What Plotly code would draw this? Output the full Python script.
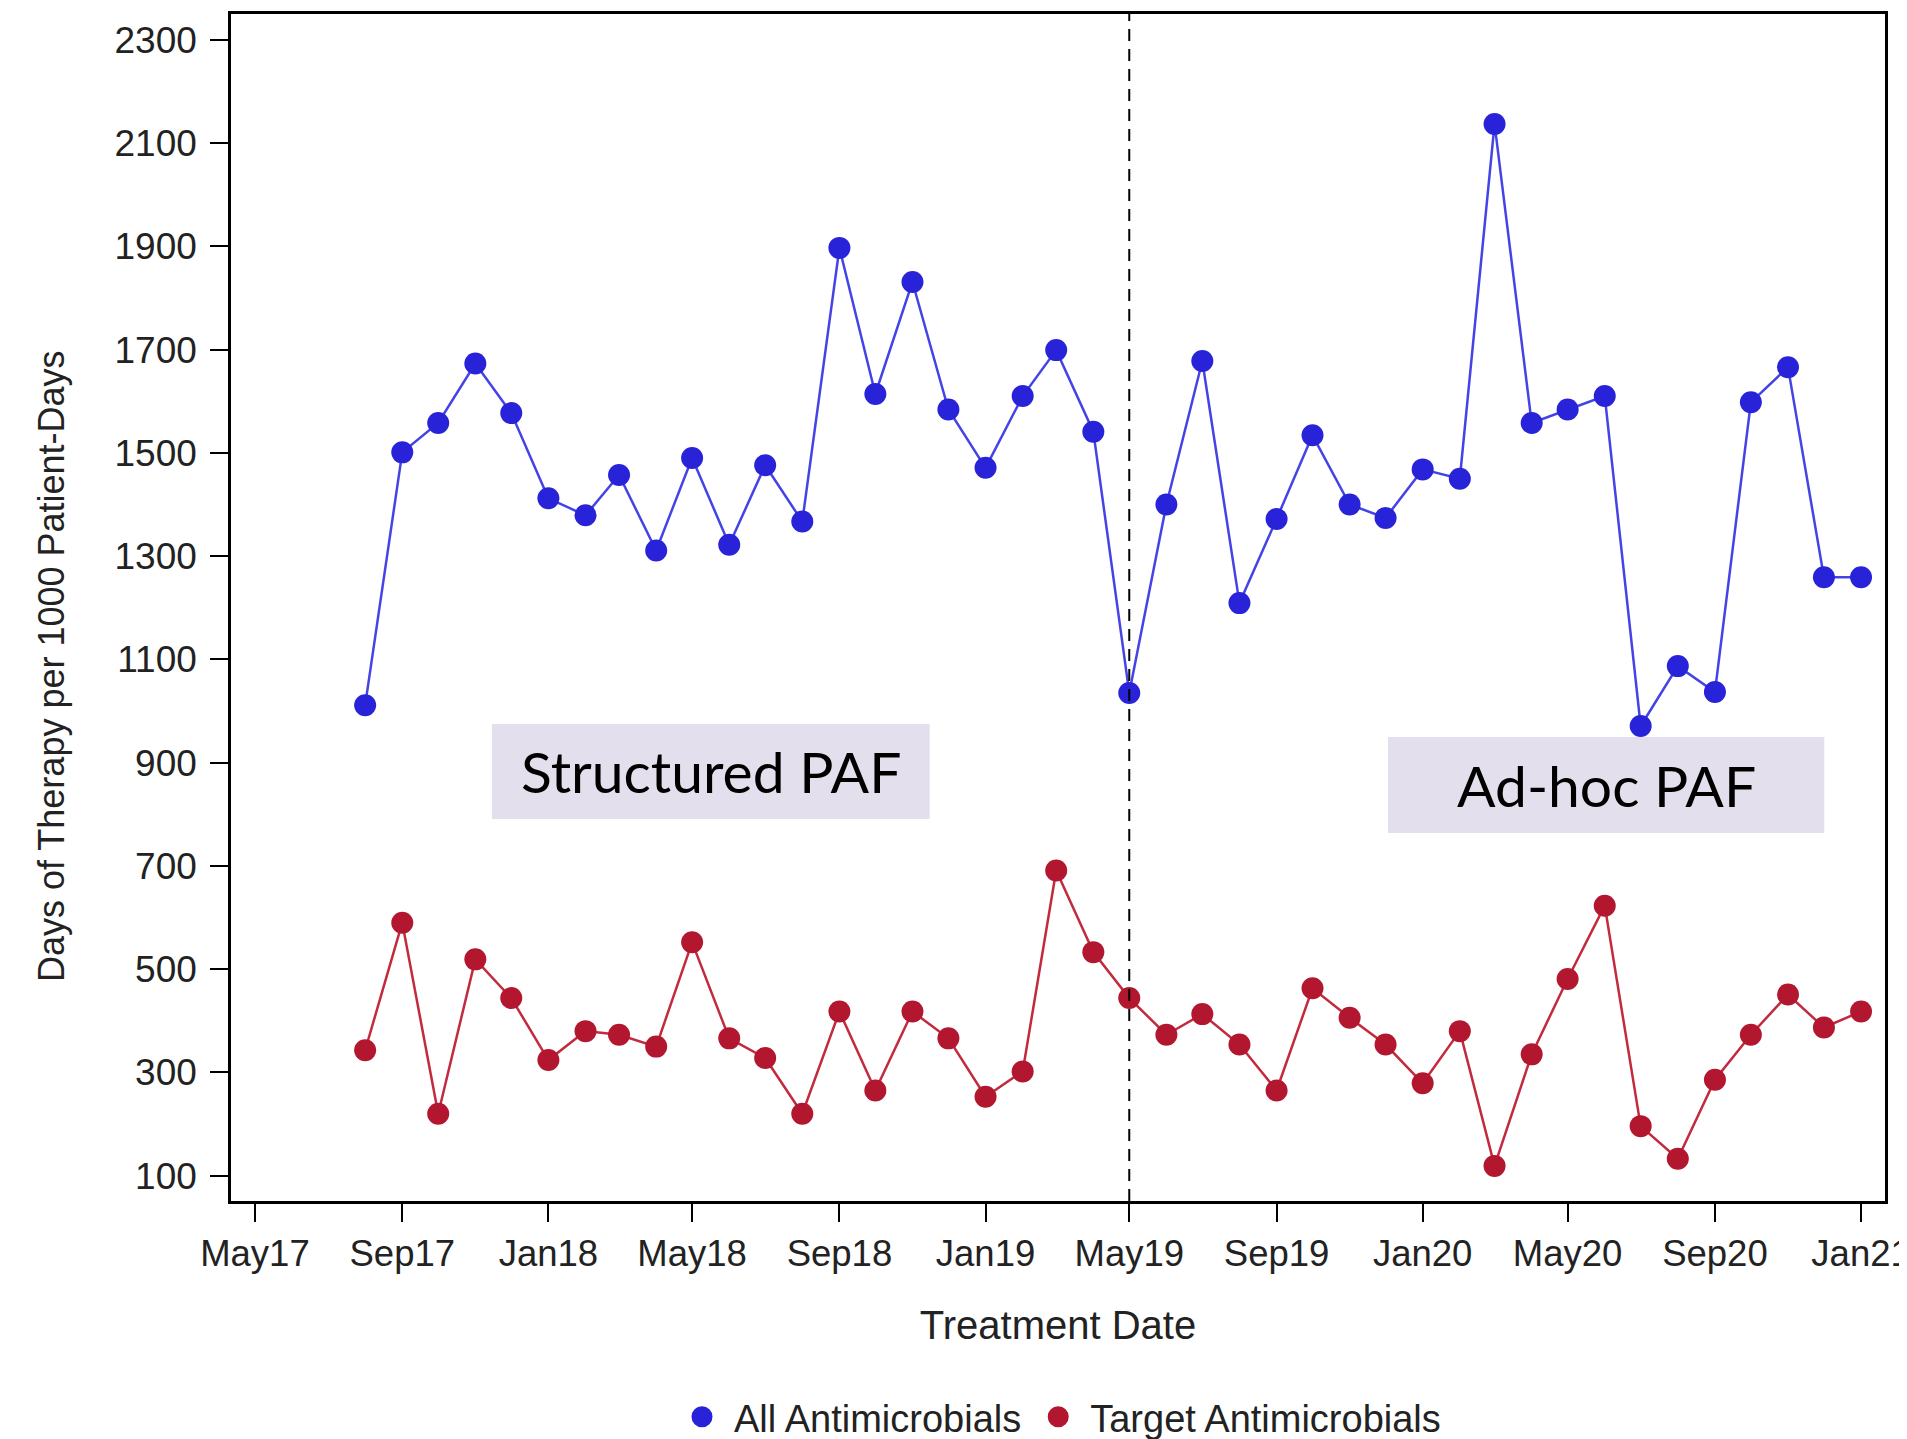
import plotly.graph_objects as go

months = [
    "2017-08-01", "2017-09-01", "2017-10-01", "2017-11-01", "2017-12-01",
    "2018-01-01", "2018-02-01", "2018-03-01", "2018-04-01", "2018-05-01", "2018-06-01",
    "2018-07-01", "2018-08-01", "2018-09-01", "2018-10-01", "2018-11-01", "2018-12-01",
    "2019-01-01", "2019-02-01", "2019-03-01", "2019-04-01", "2019-05-01", "2019-06-01",
    "2019-07-01", "2019-08-01", "2019-09-01", "2019-10-01", "2019-11-01", "2019-12-01",
    "2020-01-01", "2020-02-01", "2020-03-01", "2020-04-01", "2020-05-01", "2020-06-01",
    "2020-07-01", "2020-08-01", "2020-09-01", "2020-10-01", "2020-11-01", "2020-12-01",
    "2021-01-01",
]

all_antimicrobials = [
    1011, 1501, 1558, 1673, 1577,
    1412, 1379, 1457, 1311, 1490, 1322,
    1476, 1367, 1897, 1614, 1831, 1584,
    1471, 1610, 1699, 1541, 1035, 1400,
    1678, 1209, 1372, 1534, 1400, 1374,
    1468, 1450, 2137, 1558, 1584, 1610,
    971, 1087, 1037, 1598, 1666, 1259,
    1259,
]

target_antimicrobials = [
    343, 590, 220, 519, 444,
    324, 380, 373, 350, 552, 366,
    328, 220, 418, 265, 418, 366,
    253, 302, 691, 533, 444, 373,
    413, 354, 265, 463, 406, 354,
    279, 380, 119, 335, 481, 623,
    196, 133, 286, 373, 451, 387,
    418,
]

intervention_date = "2019-05-01"
y_ticks = [100, 300, 500, 700, 900, 1100, 1300, 1500, 1700, 1900, 2100, 2300]

BLUE_M = "#2823d8"
BLUE_L = "#4444e6"
RED_M = "#b3172f"
RED_L = "#c22a3e"
FONT = "Liberation Sans, Arial, sans-serif"

fig = go.Figure()
fig.add_trace(go.Scatter(
    x=months, y=all_antimicrobials, mode="lines+markers",
    line=dict(color=BLUE_L, width=2.5),
    marker=dict(color=BLUE_M, size=22),
    showlegend=False,
))
fig.add_trace(go.Scatter(
    x=months, y=target_antimicrobials, mode="lines+markers",
    line=dict(color=RED_L, width=2.5),
    marker=dict(color=RED_M, size=22),
    showlegend=False,
))
# legend entries (dots only)
fig.add_trace(go.Scatter(x=[None], y=[None], mode="markers", name="All Antimicrobials",
                         marker=dict(color=BLUE_M, size=16, line=dict(color=BLUE_M, width=5))))
fig.add_trace(go.Scatter(x=[None], y=[None], mode="markers", name="Target Antimicrobials",
                         marker=dict(color=RED_M, size=16, line=dict(color=RED_M, width=5))))

fig.add_shape(type="line", xref="x", yref="paper", x0=intervention_date, x1=intervention_date,
              y0=0, y1=1, line=dict(color="black", width=2, dash="12px,8px"))

box_color = "#e3dfec"
boxes = [
    ("Structured PAF", 0.1577, 0.4224, 0.3218, 0.4019),
    ("Ad-hoc PAF", 0.6995, 0.9633, 0.310, 0.3909),
]
for text, bx0, bx1, by0, by1 in boxes:
    fig.add_shape(type="rect", xref="paper", yref="paper", x0=bx0, x1=bx1, y0=by0, y1=by1,
                  fillcolor=box_color, line=dict(width=0), layer="above")
    fig.add_annotation(xref="paper", yref="paper", x=(bx0 + bx1) / 2, y=(by0 + by1) / 2,
                       xanchor="center", yanchor="middle",
                       text=text, showarrow=False,
                       font=dict(family="Lato, Open Sans, sans-serif", size=57, color="black"))

# y-axis title (placed below the axis centre, as in the original)
fig.add_annotation(xref="paper", yref="paper", x=-0.1088, y=0.4507,
                   xanchor="center", yanchor="middle", textangle=-90,
                   text="Days of Therapy per 1000 Patient-Days", showarrow=False,
                   font=dict(family=FONT, size=36, color="#222"))

fig.update_layout(
    width=1899, height=1431,
    margin=dict(l=223, r=22, t=6, b=238, autoexpand=False),
    plot_bgcolor="white", paper_bgcolor="white",
    font=dict(family=FONT, size=37, color="#222"),
    legend=dict(orientation="h", x=0.5, xanchor="center", y=-0.182, yanchor="middle",
                font=dict(size=38), itemwidth=54),
    xaxis=dict(
        type="date", range=["2017-04-11", "2021-01-21"],
        tick0="2017-05-01", dtick="M4", tickformat="%b%y",
        ticks="outside", ticklen=18, tickwidth=2, tickcolor="black",
        showline=True, linecolor="black", linewidth=2.5, mirror=True,
        showgrid=False, zeroline=False, automargin=False,
        ticklabeloverflow="allow",
        title=dict(text="Treatment Date", font=dict(size=40), standoff=39),
        tickfont=dict(size=36.5),
    ),
    yaxis=dict(
        range=[51, 2350], tickvals=y_ticks,
        ticks="outside", ticklen=18, tickwidth=2, tickcolor="black",
        showline=True, linecolor="black", linewidth=2.5, mirror=True,
        showgrid=False, zeroline=False, automargin=False,
        ticklabelstandoff=6,
        tickfont=dict(size=37),
    ),
)

fig.write_html("out.html")
